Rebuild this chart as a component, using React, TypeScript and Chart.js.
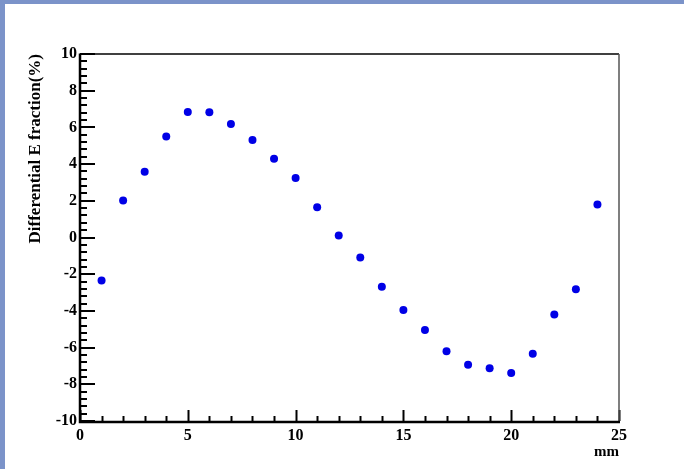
import React, { useEffect, useRef } from 'react';
import { Chart, registerables } from 'chart.js';

Chart.register(...registerables);

const positions = [1, 2, 3, 4, 5, 6, 7, 8, 9, 10, 11, 12, 13, 14, 15, 16, 17, 18, 19, 20, 21, 22, 23, 24];
const fractions = [-2.35, 2.02, 3.58, 5.51, 6.84, 6.82, 6.18, 5.31, 4.29, 3.24, 1.65, 0.11, -1.09, -2.68, -3.95, -5.04, -6.2, -6.93, -7.13, -7.39, -6.33, -4.2, -2.82, 1.8];
const xRange = [0, 25];
const yRange = [-10, 10];
const xMajorStep = 5;
const xMinorStep = 1;
const yMajorStep = 2;
const yMinorStep = 0.4;
const xTitle = 'mm';
const yTitle = 'Differential E fraction(%)';

const frameTicks = {
  id: 'frameTicks',
  afterDatasetsDraw(chart: any) {
    const { ctx, chartArea, scales } = chart;
    const xs = scales.x;
    const ys = scales.y;
    const { left, right, top, bottom } = chartArea;
    ctx.save();
    ctx.strokeStyle = '#000';
    ctx.lineCap = 'butt';
    // x ticks
    const nx = Math.round((xRange[1] - xRange[0]) / xMinorStep);
    for (let i = 0; i <= nx; i++) {
      const v = xRange[0] + i * xMinorStep;
      const px = Math.round(xs.getPixelForValue(v)) + 0.5;
      const major = Math.abs(v / xMajorStep - Math.round(v / xMajorStep)) < 1e-6;
      const len = major ? 11 : 5;
      ctx.lineWidth = 2;
      ctx.beginPath();
      ctx.moveTo(px, bottom);
      ctx.lineTo(px, bottom - len);
      ctx.stroke();
    }
    // y ticks
    const ny = Math.round((yRange[1] - yRange[0]) / yMinorStep);
    for (let i = 0; i <= ny; i++) {
      const v = yRange[0] + i * yMinorStep;
      const py = Math.round(ys.getPixelForValue(v));
      const major = i % Math.round(yMajorStep / yMinorStep) === 0;
      const len = major ? 15 : 7;
      ctx.lineWidth = 2;
      ctx.beginPath();
      ctx.moveTo(left, py);
      ctx.lineTo(left + len, py);
      ctx.stroke();
    }
    // top frame
    ctx.lineWidth = 1.5;
    ctx.beginPath();
    ctx.moveTo(left, top);
    ctx.lineTo(right, top);
    ctx.stroke();
    // right frame
    ctx.strokeStyle = '#555';
    ctx.lineWidth = 1.5;
    ctx.beginPath();
    ctx.moveTo(right, top);
    ctx.lineTo(right, bottom);
    ctx.stroke();
    // left and bottom axes
    ctx.strokeStyle = '#000';
    ctx.lineWidth = 2.5;
    ctx.beginPath();
    ctx.moveTo(left, top - 0.5);
    ctx.lineTo(left, bottom + 1);
    ctx.lineTo(right + 1, bottom + 1);
    ctx.stroke();
    ctx.restore();
  },
};

export default function App() {
  const canvasRef = useRef<HTMLCanvasElement | null>(null);

  useEffect(() => {
    document.body.style.margin = '0';
    const canvas = canvasRef.current;
    if (!canvas) return;
    const serif = "'Liberation Serif', 'Times New Roman', serif";
    const chart = new Chart(canvas, {
      type: 'scatter',
      data: {
        datasets: [
          {
            data: positions.map((x, i) => ({ x, y: fractions[i] })),
            backgroundColor: '#0000e6',
            borderWidth: 0,
            pointRadius: 4,
            pointHoverRadius: 4,
          },
        ],
      },
      options: {
        animation: false,
        responsive: false,
        devicePixelRatio: 1,
        layout: { padding: { left: 25, top: 54, right: 65, bottom: 8 } },
        plugins: { legend: { display: false }, tooltip: { enabled: false } },
        scales: {
          x: {
            type: 'linear',
            min: xRange[0],
            max: xRange[1],
            afterFit: (s: any) => {
              s.height = 40;
            },
            grid: { display: false, drawTicks: false },
            border: { display: false },
            ticks: {
              stepSize: xMajorStep,
              autoSkip: false,
              maxRotation: 0,
              padding: 5,
              color: '#000',
              font: { family: serif, size: 16, weight: 'bold' },
            },
            title: {
              display: true,
              text: xTitle,
              align: 'end',
              padding: 0,
              color: '#000',
              font: { family: serif, size: 15, weight: 'bold' },
            },
          },
          y: {
            type: 'linear',
            min: yRange[0],
            max: yRange[1],
            afterFit: (s: any) => {
              s.width = 55;
            },
            grid: { display: false, drawTicks: false },
            border: { display: false },
            ticks: {
              stepSize: yMajorStep,
              autoSkip: false,
              padding: 3,
              color: '#000',
              font: { family: serif, size: 16, weight: 'bold' },
            },
            title: {
              display: true,
              text: yTitle,
              align: 'end',
              padding: 0,
              color: '#000',
              font: { family: serif, size: 17, weight: 'bold' },
            },
          },
        },
      },
      plugins: [frameTicks],
    } as any);
    return () => chart.destroy();
  }, []);

  return (
    <div style={{ position: 'fixed', left: 0, top: 0, width: 684, height: 469, background: '#fff', overflow: 'hidden' }}>
      <canvas ref={canvasRef} width={684} height={469} style={{ display: 'block' }} />
      <div style={{ position: 'absolute', left: 0, top: 0, width: 684, height: 4, background: '#7b93c9' }} />
      <div style={{ position: 'absolute', left: 0, top: 0, width: 5, height: 469, background: '#7b93c9' }} />
    </div>
  );
}
